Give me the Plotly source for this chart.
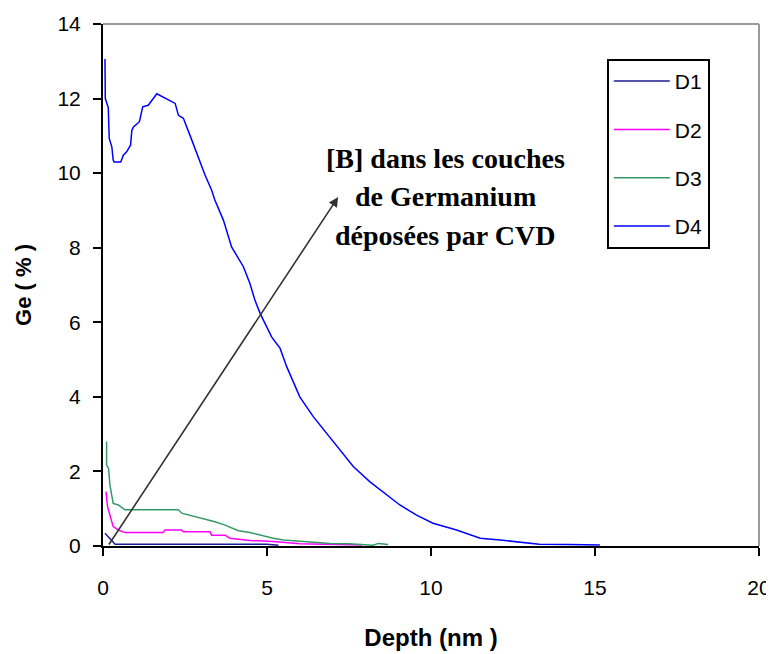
import plotly.graph_objects as go

# ---- data ----
d1_x = [0.06, 0.16, 0.31, 0.37, 1.0, 2.0, 3.0, 4.0, 5.0, 5.35]
d1_y = [0.34, 0.25, 0.09, 0.05, 0.05, 0.05, 0.05, 0.05, 0.05, 0.02]

d2_x = [0.09, 0.14, 0.21, 0.31, 0.47, 0.67, 1.84, 1.89, 2.40, 2.45, 3.26, 3.31, 3.72,
        3.87, 4.48, 5.19, 6.0, 6.87, 7.6, 7.9]
d2_y = [1.46, 1.05, 0.83, 0.52, 0.43, 0.36, 0.36, 0.43, 0.43, 0.38, 0.38, 0.29, 0.29,
        0.21, 0.15, 0.12, 0.06, 0.05, 0.04, 0.03]

d3_x = [0.11, 0.11, 0.17, 0.21, 0.31, 0.47, 0.67, 2.30, 2.40, 2.80, 3.11, 3.41, 3.72,
        3.87, 4.13, 4.48, 4.79, 5.19, 5.50, 6.11, 6.92, 7.5, 8.23, 8.4, 8.69]
d3_y = [2.80, 2.17, 2.08, 1.64, 1.14, 1.10, 0.97, 0.97, 0.88, 0.79, 0.70, 0.65, 0.56,
        0.50, 0.41, 0.36, 0.29, 0.21, 0.16, 0.12, 0.07, 0.06, 0.02, 0.07, 0.04]

d4_x = [0.06, 0.07, 0.16, 0.19, 0.27, 0.31, 0.34, 0.54, 0.62, 0.72, 0.84, 0.88, 0.93,
        1.11, 1.21, 1.38, 1.64, 1.94, 2.20, 2.30, 2.45, 2.65, 2.86, 3.11, 3.31, 3.41,
        3.67, 3.92, 4.28, 4.48, 4.63, 4.79, 5.14, 5.40, 5.60, 6.00, 6.41, 6.82, 7.33,
        7.63, 8.14, 8.65, 9.05, 9.56, 10.06, 10.78, 11.50, 12.10, 13.30, 14.20, 15.15]
d4_y = [13.06, 12.0, 11.76, 10.93, 10.70, 10.35, 10.30, 10.30, 10.48, 10.57, 10.75,
        11.15, 11.24, 11.38, 11.78, 11.82, 12.13, 12.00, 11.87, 11.55, 11.47, 11.02,
        10.53, 9.95, 9.55, 9.28, 8.74, 8.02, 7.49, 7.04, 6.60, 6.24, 5.61, 5.30, 4.81,
        4.00, 3.47, 3.02, 2.49, 2.13, 1.72, 1.37, 1.10, 0.83, 0.61, 0.43, 0.21, 0.16,
        0.05, 0.04, 0.03]

series = [
    ("D1", d1_x, d1_y, "#1c1c96"),
    ("D2", d2_x, d2_y, "#ff00ff"),
    ("D3", d3_x, d3_y, "#339966"),
    ("D4", d4_x, d4_y, "#0000ff"),
]

x_ticks = [0, 5, 10, 15, 20]
y_ticks = [0, 2, 4, 6, 8, 10, 12, 14]

annotation_lines = ["[B] dans les couches", "de Germanium", "déposées par CVD"]
annotation_x = 10.43
annotation_y = [10.40, 9.38, 8.34]
arrow_from = (0.15, 0.0)
arrow_to = (7.17, 9.36)

fig = go.Figure()
for name, xs, ys, col in series:
    fig.add_trace(go.Scatter(x=xs, y=ys, mode="lines", name=name, legendgroup=name,
                             line=dict(color=col, width=1.5)))

axis_font = dict(family="Liberation Sans, Arial", size=21, color="black")

# page body has an 8px margin, so the figure is shrunk/offset accordingly
fig.update_layout(
    width=766, height=646,
    margin=dict(l=95, r=15, t=16, b=108),
    paper_bgcolor="white", plot_bgcolor="white",
    showlegend=True,
    legend=dict(x=0.768, y=0.933, xanchor="left", yanchor="top",
                bordercolor="black", borderwidth=2, bgcolor="white",
                font=dict(family="Liberation Sans, Arial", size=21, color="black"),
                tracegroupgap=18, itemwidth=56),
    xaxis=dict(range=[0, 20], tickvals=x_ticks, ticks="outside", ticklen=8, tickwidth=2,
               tickcolor="black", showline=True, linecolor="black", linewidth=2,
               showgrid=False, zeroline=False, tickfont=axis_font, automargin=False,
               ticklabelstandoff=14,
               title=dict(text="<b>Depth (nm )</b>",
                          font=dict(family="Liberation Sans, Arial", size=24, color="black"),
                          standoff=31)),
    yaxis=dict(range=[0, 14], tickvals=y_ticks, ticks="outside", ticklen=8, tickwidth=2,
               tickcolor="black", showline=True, linecolor="black", linewidth=2,
               showgrid=False, zeroline=False, tickfont=axis_font, ticklabelstandoff=8,
               automargin=False,
               title=dict(text="<b>Ge ( % )</b>",
                          font=dict(family="Liberation Sans, Arial", size=22, color="black"),
                          standoff=20)),
    shapes=[
        dict(type="line", xref="paper", yref="paper", x0=0, x1=1, y0=1, y1=1,
             line=dict(color="#9a9a9a", width=2)),
        dict(type="line", xref="paper", yref="paper", x0=1, x1=1, y0=0, y1=1,
             line=dict(color="#9a9a9a", width=2)),
    ],
)

fig.add_annotation(x=arrow_to[0], y=arrow_to[1], ax=arrow_from[0], ay=arrow_from[1],
                   xref="x", yref="y", axref="x", ayref="y", text="", showarrow=True,
                   arrowhead=2, arrowsize=1.2, arrowwidth=1.6, arrowcolor="#333333")

for txt, yy in zip(annotation_lines, annotation_y):
    fig.add_annotation(x=annotation_x, y=yy, xref="x", yref="y", text="<b>%s</b>" % txt,
                       showarrow=False, xanchor="center", yanchor="middle",
                       font=dict(family="Liberation Serif, Times New Roman", size=28,
                                 color="black"))

fig.write_html("out.html")
